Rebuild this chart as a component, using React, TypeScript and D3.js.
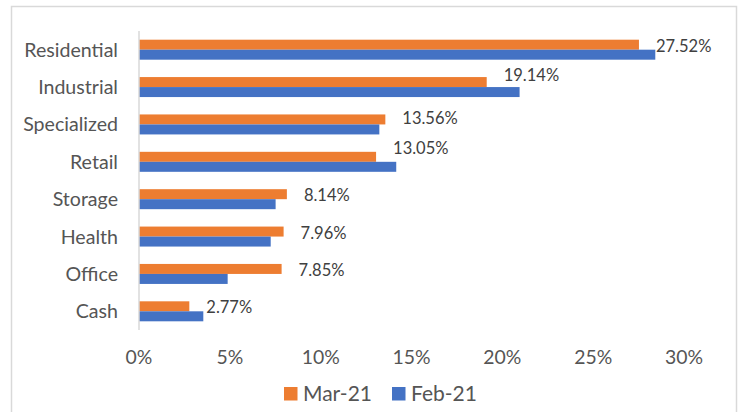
import React from "react";
import * as d3 from "d3";

const categories = ["Residential", "Industrial", "Specialized", "Retail", "Storage", "Health", "Office", "Cash"];
const series = ["Mar-21", "Feb-21"];
const mar21 = [27.52, 19.14, 13.56, 13.05, 8.14, 7.96, 7.85, 2.77];
const feb21 = [28.42, 20.95, 13.23, 14.16, 7.52, 7.25, 4.88, 3.54];
const xTicks = [0, 5, 10, 15, 20, 25, 30];
const labelNudge = [0, -8, -2, -10, 0, 0, 0, 0];

const colors: Record<string, string> = { "Mar-21": "#ED7D31", "Feb-21": "#4472C4" };
const FONT = "Lato, 'Open Sans', sans-serif";

export default function App() {
  const W = 740, H = 412;
  const x = d3.scaleLinear().domain([0, 30]).range([139, 684]);
  const y = d3.scaleBand<string>().domain(categories).range([31, 330]).paddingInner(0.465).paddingOuter(0.2325);
  const sub = d3.scaleBand<string>().domain(series).range([0, y.bandwidth()]);
  const values: Record<string, number[]> = { "Mar-21": mar21, "Feb-21": feb21 };

  return (
    <svg width={W} height={H} style={{ position: "absolute", left: 0, top: 0, background: "#fff" }} fontFamily={FONT}>
      <rect x={0} y={0} width={W} height={H} fill="#fff" />
      <rect x={11.5} y={6.5} width={725} height={430} fill="none" stroke="#d9d9d9" strokeWidth={1.5} />
      {categories.map((c, i) =>
        series.map((s) => (
          <rect
            key={c + s}
            x={x(0)}
            y={(y(c) as number) + (sub(s) as number)}
            width={x(values[s][i]) - x(0)}
            height={sub.bandwidth()}
            fill={colors[s]}
          />
        ))
      )}
      <line x1={x(0)} x2={x(0)} y1={31} y2={330} stroke="#d9d9d9" strokeWidth={1.5} />
      {categories.map((c) => (
        <text key={c} x={118} y={(y(c) as number) + y.bandwidth() / 2 + 7} textAnchor="end" fontSize={19.6} fill="#555">
          {c}
        </text>
      ))}
      {xTicks.map((t) => (
        <text key={t} x={x(t)} y={364} textAnchor="middle" fontSize={19.4} fill="#555">
          {t}%
        </text>
      ))}
      {categories.map((c, i) => (
        <text
          key={"l" + c}
          x={x(mar21[i]) + 17}
          y={(y(c) as number) + (sub("Mar-21") as number) + sub.bandwidth() / 2 + 7 + labelNudge[i]}
          fontSize={16.5}
          fill="#404040"
        >
          {mar21[i].toFixed(2)}%
        </text>
      ))}
      {series.map((s, i) => {
        const lx = i === 0 ? 284 : 392;
        return (
          <g key={s}>
            <rect x={lx} y={387} width={13.5} height={13.5} fill={colors[s]} />
            <text x={lx + 19} y={401} fontSize={21} fill="#555">
              {s}
            </text>
          </g>
        );
      })}
    </svg>
  );
}
